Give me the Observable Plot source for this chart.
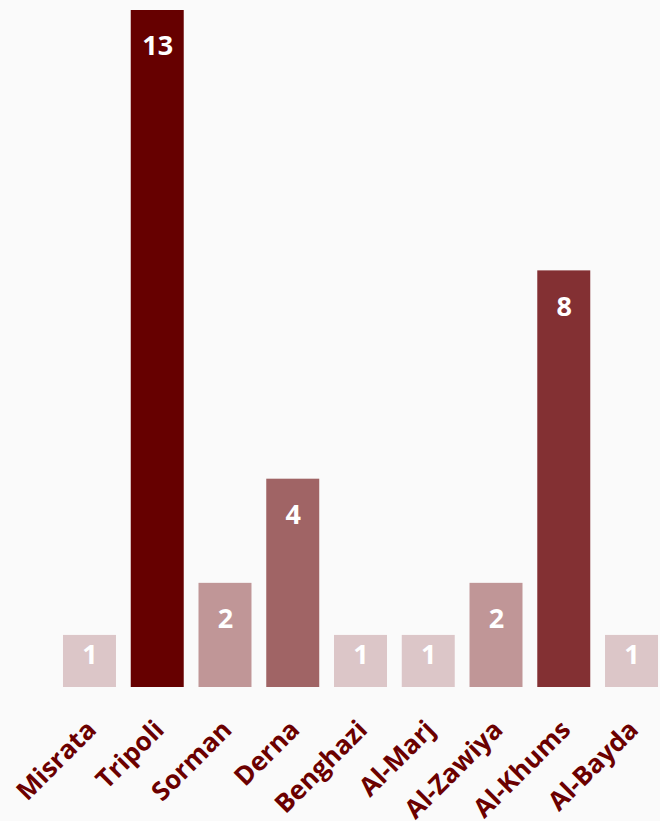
<!DOCTYPE html>
<html>
<head>
<meta charset="utf-8">
<script src="https://cdn.jsdelivr.net/npm/d3@7"></script>
<script src="https://cdn.jsdelivr.net/npm/@observablehq/plot@0.6"></script>
<style>
  html, body { margin: 0; padding: 0; background: #fafafa; }
  #chart svg { display: block; }
</style>
</head>
<body>
<div id="chart"></div>
<script>
const cities = ["Misrata", "Tripoli", "Sorman", "Derna", "Benghazi", "Al-Marj", "Al-Zawiya", "Al-Khums", "Al-Bayda"];
const counts = [1, 13, 2, 4, 1, 1, 2, 8, 1];
const colorDomain = [1, 2, 4, 8, 13];
const colorRange = ["#dcc6c8", "#c09697", "#a06465", "#833033", "#660000"];

const data = cities.map((city, i) => ({city, value: counts[i]}));

const chart = Plot.plot({
  width: 660,
  height: 821,
  marginTop: 10,
  marginBottom: 134,
  marginLeft: 0,
  marginRight: 0,
  style: {background: "#fafafa", fontFamily: "'Open Sans', Lato, sans-serif"},
  x: {domain: cities, range: [55.6, 665.4], paddingInner: 0.218, paddingOuter: 0.109, round: false, axis: null},
  y: {domain: [0, 13], axis: null},
  color: {type: "ordinal", domain: colorDomain, range: colorRange},
  marks: [
    Plot.barY(data, {x: "city", y: "value", fill: d => d.value}),
    Plot.ruleY([0], {x1: 55, x2: 660, stroke: "#d9d9d9", strokeWidth: 2}),
    Plot.text(data.filter(d => d.value > 1), {
      x: "city", y: "value", text: d => String(d.value),
      dy: 36, fill: "white", fontSize: 27, fontWeight: "bold", lineAnchor: "middle"
    }),
    Plot.text(data.filter(d => d.value === 1), {
      x: "city", y: "value", text: d => String(d.value),
      dy: 20, fill: "white", fontSize: 27, fontWeight: "bold", lineAnchor: "middle"
    }),
    Plot.text(data, {
      x: "city", y: 0, text: "city", rotate: -45, textAnchor: "end", lineAnchor: "middle",
      dy: 38, dx: 2, fill: "#6b0000", fontSize: 26, fontWeight: "bold"
    })
  ]
});
document.getElementById("chart").appendChild(chart);
</script>
</body>
</html>
